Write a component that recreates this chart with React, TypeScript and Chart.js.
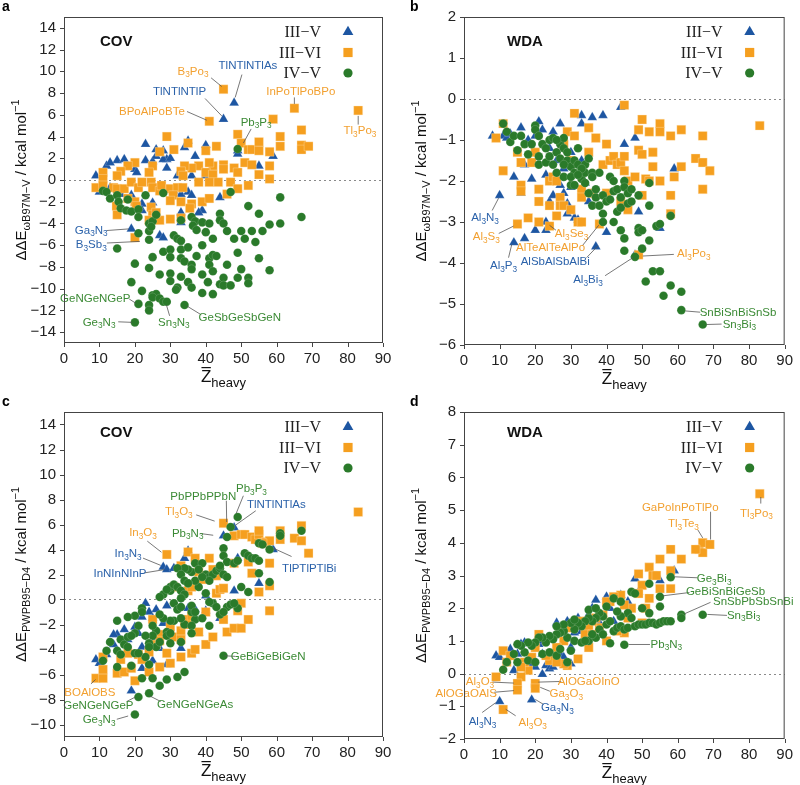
import React, { useEffect, useRef } from 'react';
import { Chart, registerables } from 'chart.js';

Chart.register(...registerables);

type P = [number, number];
type Ann = [string, 'b' | 'o' | 'g', number, number, number, number, number, number];

const SANS = '"Liberation Sans", Arial, Helvetica, sans-serif';
const SERIF = '"Liberation Serif", "Times New Roman", serif';
const BLUE = '#1d56a2';
const ORANGE = '#f59f1f';
const GREEN = '#2a7a2a';
const LABEL_COLORS = { b: '#2b62aa', o: '#f2a030', g: '#3b8a35' };

const seriesNames = ['III\u2212V', 'III\u2212VI', 'IV\u2212V'];
const xTickValues = [0, 10, 20, 30, 40, 50, 60, 70, 80, 90];
const yTicksA = [-14, -12, -10, -8, -6, -4, -2, 0, 2, 4, 6, 8, 10, 12, 14];
const yTicksB = [-6, -5, -4, -3, -2, -1, 0, 1, 2];
const yTicksC = [-10, -8, -6, -4, -2, 0, 2, 4, 6, 8, 10, 12, 14];
const yTicksD = [-2, -1, 0, 1, 2, 3, 4, 5, 6, 7, 8];

// ---------- Panel a : COV, wB97M-V ----------
const aIIIV: P[] = [[48,7.1],[45,5.6],[23,3.3],[35,3.6],[40,3.2],[34,3.0],[37,2.2],[26,2.8],[28,2.7],[29,1.9],[28,1.9],[30,2.0],[49,2.7],[49,2.4],[59,2.2],[55,1.3],[9,0.4],[12,1.3],[15,1.8],[17,1.9],[13,1.6],[20,1.0],[20.5,0.7],[23,1.8],[25,1.7],[26,2.2],[29,1.1],[32,0.4],[36,0.4],[40,0.4],[10,-1.1],[13,-0.7],[16,-1.3],[19,-1.4],[22,-2.2],[22,-2.8],[25,-2.1],[33,-1.3],[35,-1.1],[36,-1.4],[39,-2.8],[44,-1.6],[33,-3.0],[33,-3.9],[19,-4.5],[27,-5.1],[28,-5.3],[21,-2.5],[31,-1.0],[38,-3.0]];
const aIIIVI: P[] = [[45,8.35],[41,5.4],[65,6.6],[83,6.4],[59,5.6],[67,4.6],[61,4.0],[61,3.1],[67,3.2],[67,2.8],[69,3.1],[49,4.2],[50,3.4],[29,4.0],[35,3.4],[43,3.1],[40,2.7],[31,2.8],[27,2.6],[52,2.8],[53,2.8],[55,3.5],[55,2.7],[58,2.6],[58,1.3],[58,0.1],[55,0.5],[51,1.6],[53,1.4],[48,1.1],[49,0.7],[45,1.4],[45,1.0],[42,1.3],[41,1.6],[38,1.3],[36,1.1],[34,1.3],[33,0.8],[33.6,0.4],[40,0.7],[42,0.5],[43.5,-0.2],[47,-0.2],[41,-0.2],[38,-0.2],[52,-0.5],[49,-0.8],[46,-1.3],[25,1.3],[24,0.7],[20,1.6],[18,1.3],[16,0.8],[15,0.4],[11,0.7],[11,0.1],[9,-0.7],[11,-0.5],[14,-0.7],[15,-0.8],[17,-0.8],[19,-0.2],[21,-0.7],[22,-0.2],[24.6,-0.2],[25,-0.7],[27,-1.0],[27.5,-0.5],[30,-0.8],[32,-0.7],[33.5,-0.7],[30.8,-1.4],[30,-1.9],[33,-2.0],[36,-2.2],[35.5,-2.6],[39,-2.0],[41,-1.7],[18,-1.7],[20,-2.0],[20.4,-2.4],[14.8,-2.4],[15,-3.2],[24.6,-2.5],[25,-3.2],[24,-3.7],[27,-3.7],[30,-3.6],[33,-3.5],[20,-5.3],[26,-3.0]];
const aIVV: P[] = [[49,2.85],[47,-1.1],[61,-1.6],[67,-3.4],[61,-4.0],[58,-4.1],[55,-3.1],[52,-2.4],[11,-1.0],[12,-1.1],[13,-1.7],[15,-1.4],[15.4,-2.0],[16,-2.6],[18,-1.8],[17.6,-2.8],[19,-2.9],[21,-2.7],[21,-3.4],[23,-1.4],[28,-1.2],[21,-4.9],[24,-4.0],[24,-4.7],[25,-3.8],[24.6,-4.3],[26,-3.2],[24,-5.5],[15,-6.3],[20,-7.7],[24,-8.1],[25,-7.1],[27,-8.7],[28,-6.6],[30,-6.4],[30,-7.1],[30,-8.6],[30,-9.3],[31,-5.1],[32,-5.4],[33,-5.6],[33,-6.4],[33,-7.2],[34,-7.5],[35,-6.2],[36,-7.8],[36,-8.2],[33,-8.9],[32,-9.9],[31.6,-10.1],[35,-9.4],[36,-9.9],[33,-3.7],[36,-3.4],[37,-3.8],[36.4,-4.2],[37.4,-4.6],[39,-3.9],[41,-4.0],[44,-3.1],[44,-3.7],[45,-4.0],[46,-4.7],[42,-5.4],[40,-4.8],[39,-6.0],[37.4,-7.0],[41,-7.2],[42,-6.9],[43,-7.0],[41,-7.8],[42,-8.4],[40.6,-9.4],[42,-10.5],[39,-10.4],[39,-8.7],[44,-9.6],[45,-9.0],[45,-9.7],[47,-9.7],[46,-7.8],[48,-5.4],[50,-4.7],[51,-5.4],[53,-4.7],[54,-5.7],[56,-4.7],[55,-7.2],[49,-6.7],[50,-8.2],[49,-9.0],[52,-9.0],[52,-9.5],[58,-8.3],[19,-9.4],[22,-10.2],[25,-10.6],[26,-10.5],[25,-10.8],[27,-10.9],[28,-11.2],[29,-11.2],[21,-11.4],[24,-11.5],[24,-12.0],[34,-11.5],[20,-13.1]];
const aAnn: Ann[] = [
  ['B3Po3','o',36.4,10.0,41.5,9.4,44.5,8.6],
  ['TlNTlNTlAs','b',51.9,10.5,50.2,9.7,48.3,7.6],
  ['TlNTlNTlP','b',32.6,8.1,39.8,7.5,44.5,5.9],
  ['BPoAlPoBTe','o',24.8,6.25,34.7,6.3,40.3,5.5],
  ['InPoTlPoBPo','o',66.8,8.1,65,7.6,65,7.0],
  ['Tl3Po3','o',83.5,4.5,83,5.9,83,5.1],
  ['Pb3P3','g',54.2,5.3,52.8,4.7,50.6,3.4],
  ['Ga3N3','b',7.7,-4.65,12.1,-4.65,18.3,-4.5],
  ['B3Sb3','b',7.7,-5.95,12.1,-5.8,21.4,-5.65],
  ['GeNGeNGeP','g',8.8,-10.9,18.4,-10.95,20.3,-11.35],
  ['Ge3N3','g',9.9,-13.1,15.3,-13.05,19.2,-13.1],
  ['Sn3N3','g',31,-13.1,29.8,-12.5,28.9,-11.5],
  ['GeSbGeSbGeN','g',49.6,-12.7,38.7,-12.4,34.7,-11.6],
];

// ---------- Panel b : WDA, wB97M-V ----------
const bIIIV: P[] = [[8,-0.9],[10,-2.35],[14,-3.5],[17,-3.4],[11,-0.9],[12,-0.95],[13,-0.85],[14,-1.9],[16,-0.7],[16,-2.3],[17,-1.6],[18,-1.0],[19,-1.95],[20,-3.2],[21,-0.55],[22,-0.75],[23,-1.85],[23,-3.2],[23,-3.0],[24,-2.5],[25,-0.8],[25,-2.35],[26,-1.5],[27,-0.6],[27,-2.1],[28,-1.7],[28,-2.3],[29,-2.8],[29,-2.55],[30,-2.15],[31,-2.9],[32,-2.95],[33,-0.4],[33,-0.6],[34,-2.05],[35,-2.5],[36,-0.45],[37,-3.6],[39,-0.4],[40,-3.25],[44,-0.2],[45,-1.1],[48,-0.95],[48,-3.8],[49,-2.75],[55,-3.15],[59,-1.7],[33,-1.5],[30,-1.3],[24,-1.2],[20,-0.9]];
const bIIIVI: P[] = [[83,-0.65],[45,-0.15],[31,-0.35],[35,-0.7],[9,-0.95],[11,-0.6],[11,-1.75],[15,-1.3],[16,-1.55],[16,-2.1],[16,-2.25],[15,-3.05],[18,-2.9],[19,-1.55],[20,-1.3],[21,-2.2],[21,-2.5],[21,-3.0],[24,-3.1],[24,-2.6],[24,-2.0],[25,-1.9],[26,-2.85],[27,-2.4],[27,-2.6],[28,-2.6],[30,-2.7],[29,-0.8],[30,-1.5],[31,-0.9],[32,-3.0],[33,-3.0],[33,-2.2],[33,-2.4],[35,-1.3],[37,-0.95],[38,-3.05],[40,-1.1],[39,-1.6],[41,-1.5],[42,-1.4],[43,-1.6],[44,-1.55],[45,-1.4],[45,-1.75],[46,-2.0],[46,-2.7],[48,-1.9],[49,-0.75],[49,-1.25],[50,-1.35],[50,-0.5],[51,-1.95],[50,-2.35],[52,-0.8],[53,-1.3],[53,-1.65],[52,-2.0],[55,-0.6],[55,-0.8],[55,-2.0],[58,-0.9],[58,-2.35],[58,-2.8],[59,-1.9],[61,-0.75],[61,-1.65],[65,-1.45],[67,-0.9],[67,-1.55],[67,-2.2],[69,-1.75],[49,-3.8],[26,-2.0],[28,-1.1],[36,-2.3],[40,-2.3],[44,-2.5]];
const bIVV: P[] = [[11,-0.6],[12,-0.8],[13,-1.05],[14,-0.9],[15,-1.25],[16,-0.9],[17,-1.1],[18,-1.35],[19,-1.1],[20,-0.65],[20,-0.75],[21,-0.9],[21,-1.4],[21,-1.6],[22,-1.1],[23,-1.2],[23,-1.55],[24,-1.0],[24,-1.4],[25,-0.95],[25,-1.6],[26,-1.3],[26,-1.8],[27,-1.1],[27,-1.45],[28,-0.95],[28,-1.2],[28,-1.9],[29,-1.5],[29,-1.3],[30,-1.65],[30,-2.1],[31,-1.5],[31,-1.8],[32,-1.2],[32,-1.6],[33,-1.75],[33,-1.95],[34,-1.6],[34,-1.8],[35,-1.45],[35,-2.3],[36,-1.8],[36,-2.6],[37,-2.4],[37,-2.2],[38,-1.8],[38,-2.6],[39,-2.35],[39,-2.8],[39,-3.0],[40,-2.5],[41,-1.9],[41,-2.45],[42,-2.0],[42,-2.25],[42,-3.0],[43,-2.2],[43,-2.75],[44,-2.4],[44,-2.65],[44,-3.2],[45,-2.0],[45,-2.15],[45,-3.4],[45,-3.7],[46,-2.3],[46,-2.55],[47,-2.5],[47,-2.2],[48,-3.85],[49,-2.35],[49,-3.15],[49,-3.25],[50,-3.2],[50,-3.65],[51,-4.45],[52,-2.05],[52,-2.6],[52,-3.45],[53,-4.2],[54,-3.1],[55,-3.05],[55,-4.2],[56,-4.8],[58,-2.85],[58,-4.55],[61,-4.7],[61,-5.15],[67,-5.5],[30,-1.9],[31,-2.1],[33,-1.7],[34,-2.05],[36,-1.9],[26,-1.0],[28,-1.6],[32,-1.85]];
const bAnn: Ann[] = [
  ['Al3N3','b',5.9,-2.9,7.9,-2.72,9.7,-2.42],
  ['Al3S3','o',6.25,-3.36,9.75,-3.28,13.9,-3.1],
  ['Al3P3','b',11.1,-4.08,12.5,-3.87,13.4,-3.55],
  ['Al3Se3','o',30.2,-3.3,25.8,-3.2,24,-3.08],
  ['AlTeAlTeAlPo','o',24.3,-3.62,33.2,-3.58,37.8,-3.08],
  ['AlSbAlSbAlBi','b',25.6,-3.97,34.4,-3.87,37.6,-3.58],
  ['Al3Bi3','b',34.8,-4.41,39.6,-4.31,47.4,-3.87],
  ['Al3Po3','o',64.5,-3.77,58.9,-3.79,50.2,-3.83],
  ['SnBiSnBiSnSb','g',76.9,-5.21,66.3,-5.2,62.2,-5.17],
  ['Sn3Bi3','g',77.3,-5.5,72.3,-5.49,68.1,-5.5],
];

// ---------- Panel c : COV, PWPB95-D4 ----------
const cIIIV: P[] = [[48,5.75],[45,5.1],[59,4.0],[28,2.6],[29,2.4],[31,2.5],[35,3.9],[34,3.3],[48,0.7],[55,1.3],[49,3.3],[40,0.3],[23,-0.3],[26,-0.8],[29,-0.5],[33,-0.6],[35,-0.7],[37,-0.8],[40,-0.9],[44,-1.5],[22,-1.4],[24,-1.0],[25,-1.5],[28,-1.9],[15,-2.8],[17,-2.4],[20,-2.2],[21,-2.7],[26,-3.1],[33,-3.9],[38,-2.7],[9,-4.8],[10,-5.1],[12,-4.4],[14,-3.6],[18,-3.2],[22,-3.8],[22,-5.5],[25,-4.9],[29,-5.2],[19,-7.3],[27,-3.9],[14,-2.8]];
const cIIIVI: P[] = [[83,7.0],[45,6.1],[29,3.6],[35,3.8],[37,3.3],[41,3.3],[33,2.7],[38,2.2],[39,1.6],[42,2.4],[43,0.5],[44,0.8],[45,0.9],[48,2.9],[48,5.1],[50,5.2],[51,5.2],[53,5.0],[54,4.8],[55,5.2],[55,5.5],[57,4.6],[58,4.7],[61,5.5],[61,4.8],[65,4.9],[67,5.9],[67,4.7],[69,3.7],[56,4.5],[52,3.0],[53,2.1],[58,2.9],[58,1.1],[55,0.6],[50,-0.3],[49,-0.9],[45,-1.6],[46,-2.6],[48,-2.3],[50,-2.3],[52,-1.6],[58,-0.9],[40,-3.6],[42,-3.0],[36,-4.3],[37,-4.0],[33,-4.6],[30,-5.1],[27,-5.4],[24,-5.8],[20,-6.5],[9,-6.3],[11,-6.3],[11,-5.6],[11,-4.6],[15,-5.9],[17,-5.8],[19,-5.5],[16,-4.8],[18,-4.3],[21,-4.4],[22,-4.8],[24,-4.2],[26,-3.6],[27,-2.8],[30,-2.2],[31,-3.0],[33,-2.5],[34,-2.0],[35,-1.6],[36,-1.3],[38,-2.6],[25,-1.6],[27,-3.3],[29,-4.3],[33,-3.2],[35,0.7],[36,1.0],[31,1.0],[43,1.9],[40,-1.0]];
const cIVV: P[] = [[49,6.6],[47,5.8],[46,5.0],[45,4.1],[45,3.5],[46,3.0],[48,2.9],[49,3.1],[51,3.7],[52,3.5],[53,3.3],[54,3.3],[55,3.1],[55,4.5],[56,4.4],[58,4.0],[61,5.3],[61,5.1],[67,5.5],[55,2.1],[58,1.4],[50,1.0],[52,0.6],[49,-0.7],[46,-0.6],[47,-0.4],[48,-0.3],[44,-1.2],[45,-1.0],[42,-0.3],[41,-0.2],[40,0.5],[38,1.0],[37,1.5],[36,2.2],[35,2.4],[34,2.5],[32,2.5],[33,2.0],[37,2.9],[39,2.9],[40,2.0],[41,1.8],[42,2.0],[43,2.3],[44,2.5],[44,2.7],[45,2.0],[46,1.8],[41,1.5],[39,1.8],[38,2.4],[30,0.7],[30,1.0],[31,1.2],[32,1.0],[33,0.7],[34,0.4],[33,0.1],[35,1.3],[34,1.5],[28,0.4],[27,0.2],[29,0.8],[31,-0.3],[32,-0.8],[33,-0.6],[36,-1.0],[37,-1.6],[39,-1.5],[41,-2.1],[43,-0.6],[34,-2.0],[36,-2.1],[36,-2.7],[31,-1.7],[30,-1.7],[29,-2.6],[28,-1.5],[27,-1.2],[26,-2.5],[25,-2.1],[25,-2.9],[26,-3.8],[27,-3.4],[29,-2.9],[30,-3.5],[30,-2.7],[33,-3.4],[33,-1.5],[22,-0.7],[22,-1.0],[21,-2.1],[20,-2.7],[20,-1.3],[18,-1.4],[15,-1.7],[15,-4.1],[16,-3.2],[16,-4.4],[17,-3.6],[18,-3.0],[18,-3.8],[19,-2.9],[20,-4.3],[23,-2.9],[24,-3.5],[24,-3.8],[24,-5.2],[23,-4.6],[21,-4.3],[11,-4.9],[12,-4.1],[13,-3.4],[15,-5.4],[19,-5.3],[22,-6.3],[25,-6.3],[27,-6.9],[29,-6.4],[32,-6.2],[34,-5.8],[21,-7.8],[24,-7.5],[20,-9.2],[45,-4.5],[35,1.3],[36,-0.5],[37,-1.0]];
const cAnn: Ann[] = [
  ['Pb3P3','g',52.9,8.86,50.6,8.3,48.6,6.9],
  ['PbPPbPPbN','g',39.3,8.24,45.8,7.9,45.9,6.2],
  ['TlNTlNTlAs','b',59.9,7.6,54.1,7.1,48.4,5.95],
  ['Tl3O3','o',32.4,6.98,37.3,6.77,42.5,6.27],
  ['In3O3','o',22.3,5.35,23.5,4.67,27.5,3.78],
  ['Pb3N3','g',34.9,5.28,38.4,5.28,42.1,5.14],
  ['In3N3','b',18.1,3.63,22.3,3.31,27.3,2.73],
  ['InNInNInP','b',15.8,2.05,22.7,2.13,28.3,2.39],
  ['TlPTlPTlBi','b',69.2,2.47,64.2,3.44,59.1,4.1],
  ['BOAlOBS','o',7.3,-7.48,7.6,-6.75,8.9,-6.4],
  ['GeNGeNGeP','g',9.7,-8.48,17.7,-8.16,20,-7.82],
  ['GeNGeNGeAs','g',37,-8.43,27.3,-8.16,24.1,-7.7],
  ['Ge3N3','g',9.9,-9.66,14.9,-9.58,18.1,-9.32],
  ['GeBiGeBiGeN','g',57.6,-4.55,48.3,-4.55,45.3,-4.5],
];

// ---------- Panel d : WDA, PWPB95-D4 ----------
const dIIIV: P[] = [[10,-0.85],[19,-0.8],[22,-0.02],[9,0.55],[10,0.5],[13,0.75],[14,0.1],[15,0.6],[16,0.9],[17,0.95],[19,0.3],[20,0.2],[21,0.9],[22,0.6],[23,0.25],[24,0.15],[25,0.2],[26,1.55],[27,0.6],[28,0.5],[29,1.6],[30,0.8],[31,1.25],[32,1.7],[33,1.3],[35,1.8],[36,2.0],[37,2.25],[38,1.55],[40,2.35],[41,2.0],[42,1.6],[44,2.4],[46,2.2],[48,2.9],[49,2.5],[55,2.85],[59,3.15],[22,1.0],[28,1.25],[30,0.3]];
const dIIIVI: P[] = [[83,5.5],[66,3.8],[67,4.0],[67,3.7],[69,3.95],[65,3.8],[58,3.8],[61,3.5],[58,3.15],[55,3.5],[52,3.25],[53,3.0],[54,3.0],[55,2.6],[58,2.6],[49,3.05],[50,2.7],[52,2.3],[51,2.0],[49,2.45],[47,2.0],[45,2.1],[44,2.4],[42,2.35],[41,2.2],[40,2.2],[39,1.8],[38,1.4],[37,1.7],[36,1.6],[35,1.4],[34,1.2],[33,1.6],[32,0.45],[31,1.5],[30,1.4],[29,0.25],[28,1.0],[27,1.4],[26,0.8],[25,0.5],[24,0.4],[23,0.55],[21,1.2],[20,0.8],[19,0.5],[18,0.1],[17,0.35],[16,-0.1],[16,0.2],[15,-0.3],[15,-0.5],[20,-0.3],[20,-0.45],[9,-0.1],[11,-1.1],[11,0.7],[12,0.35],[13,0.55],[45,1.25],[46,1.7],[50,1.55],[35,0.8],[36,1.2],[40,1.0],[43,1.3],[28,0.3],[26,0.35]];
const dIVV: P[] = [[58,2.95],[55,2.35],[55,2.05],[61,1.8],[61,1.7],[67,1.8],[45,0.88],[41,0.93],[52,2.75],[47,2.5],[48,2.45],[50,2.0],[52,1.85],[42,2.3],[44,2.2],[46,1.85],[44,1.75],[43,1.9],[40,2.05],[39,1.75],[38,1.85],[37,1.7],[36,1.6],[35,1.7],[34,1.6],[33,1.45],[32,1.55],[31,1.35],[30,1.55],[29,1.1],[28,1.3],[27,1.25],[26,1.2],[25,1.05],[24,1.15],[23,0.95],[22,1.1],[21,1.1],[20,0.95],[19,0.85],[18,0.95],[17,0.65],[16,0.85],[15,0.9],[14,0.6],[12,0.35],[11,0.12],[15,0.35],[18,0.4],[20,0.35],[22,0.6],[24,0.65],[26,0.55],[29,0.35],[31,1.0],[33,0.95],[35,1.0],[37,1.1],[38,1.35],[39,1.2],[40,1.5],[42,1.3],[43,1.4],[44,1.45],[45,1.35],[46,1.4],[48,1.45],[49,1.5],[50,1.5],[51,1.5],[52,1.55],[53,1.55],[54,1.5],[55,1.55],[56,1.6],[57,1.6],[58,1.6],[47,1.7],[41,1.6],[36,1.2],[34,1.0],[30,0.7],[28,1.5],[26,1.45],[31,1.65],[35,1.95],[37,2.0],[27,0.75]];
const dAnn: Ann[] = [
  ['Tl3Po3','o',82.1,4.9,83.3,5.4,83.3,5.2],
  ['GaPoInPoTlPo','o',60.7,5.08,69.2,4.95,69.2,4.1],
  ['Tl3Te3','o',61.6,4.57,65.6,4.4,67,4.15],
  ['Ge3Bi3','g',70.2,2.9,65.6,2.93,59.1,2.96],
  ['GeBiSnBiGeSb','g',73.4,2.5,63.3,2.48,55.9,2.38],
  ['SnSbPbSbSnBi','g',81.2,2.18,69.2,2.18,61.9,1.83],
  ['Sn3Bi3','g',78.5,1.78,73.8,1.78,68.3,1.81],
  ['Pb3N3','g',56.8,0.89,52.2,0.89,46.2,0.89],
  ['Al3O3','o',4.5,-0.26,8,-0.26,14,-0.29],
  ['AlOGaOAlS','o',0.6,-0.61,8.5,-0.57,14,-0.52],
  ['AlOGaOInO','o',35,-0.24,27.3,-0.24,20.9,-0.26],
  ['Ga3O3','o',28.7,-0.61,24.1,-0.54,21.4,-0.42],
  ['Ga3N3','b',26.2,-1.04,22.3,-0.94,20,-0.79],
  ['Al3N3','b',5.2,-1.48,5.1,-1.19,8.9,-0.89],
  ['Al3O3','o',19.3,-1.5,14.5,-1.29,11.7,-1.09],
];

type PanelCfg = {
  letter: string; method: string; sub: string;
  left: number; top: number; width: number; height: number;
  area: [number, number, number, number];
  yMin: number; yMax: number; yTicks: number[];
  sets: [P[], P[], P[]]; anns: Ann[];
};

const panels: PanelCfg[] = [
  { letter: 'a', method: 'COV', sub: '\u03c9B97M\u2212V', left: 0, top: 0, width: 400, height: 392, area: [64, 383, 12, 343], yMin: -15, yMax: 15, yTicks: yTicksA, sets: [aIIIV, aIIIVI, aIVV], anns: aAnn },
  { letter: 'b', method: 'WDA', sub: '\u03c9B97M\u2212V', left: 400, top: 0, width: 400, height: 392, area: [64, 390, 14, 345], yMin: -6, yMax: 2, yTicks: yTicksB, sets: [bIIIV, bIIIVI, bIVV], anns: bAnn },
  { letter: 'c', method: 'COV', sub: 'PWPB95\u2212D4', left: 0, top: 395, width: 400, height: 390, area: [64, 383, 12, 342], yMin: -11, yMax: 15, yTicks: yTicksC, sets: [cIIIV, cIIIVI, cIVV], anns: cAnn },
  { letter: 'd', method: 'WDA', sub: 'PWPB95\u2212D4', left: 400, top: 395, width: 400, height: 390, area: [64, 390, 14, 344], yMin: -2, yMax: 8, yTicks: yTicksD, sets: [dIIIV, dIIIVI, dIVV], anns: dAnn },
];

const fmt = (v: number) => (v < 0 ? '\u2212' + Math.abs(v) : String(v));

function drawChem(ctx: CanvasRenderingContext2D, text: string, x: number, y: number, size: number, color: string) {
  const segs = text.split(/(\d+)/).filter((s) => s.length > 0);
  const sub = size * 0.72;
  const widths = segs.map((s) => {
    ctx.font = `${/^\d+$/.test(s) ? sub : size}px ${SANS}`;
    return ctx.measureText(s).width;
  });
  const total = widths.reduce((a, b) => a + b, 0);
  let cx = x - total / 2;
  ctx.fillStyle = color;
  ctx.textAlign = 'left';
  ctx.textBaseline = 'middle';
  segs.forEach((s, i) => {
    const d = /^\d+$/.test(s);
    ctx.font = `${d ? sub : size}px ${SANS}`;
    ctx.fillText(s, cx, d ? y + size * 0.32 : y);
    cx += widths[i];
  });
}

function drawMarker(ctx: CanvasRenderingContext2D, kind: number, x: number, y: number) {
  ctx.beginPath();
  if (kind === 0) {
    const r = 6.2;
    ctx.moveTo(x, y - r);
    ctx.lineTo(x + r * 0.866, y + r / 2);
    ctx.lineTo(x - r * 0.866, y + r / 2);
    ctx.closePath();
    ctx.fillStyle = BLUE;
  } else if (kind === 1) {
    ctx.rect(x - 4.6, y - 4.6, 9.2, 9.2);
    ctx.fillStyle = ORANGE;
  } else {
    ctx.arc(x, y, 4.6, 0, Math.PI * 2);
    ctx.fillStyle = GREEN;
  }
  ctx.fill();
}

function makeDeco(cfg: PanelCfg) {
  return {
    id: 'deco' + cfg.letter,
    beforeDatasetsDraw(chart: any) {
      const { ctx, chartArea: a, scales } = chart;
      const y0 = scales.y.getPixelForValue(0);
      ctx.save();
      ctx.strokeStyle = '#8a8a8a';
      ctx.lineWidth = 1;
      ctx.setLineDash([2, 3]);
      ctx.beginPath();
      ctx.moveTo(a.left, Math.round(y0) + 0.5);
      ctx.lineTo(a.right, Math.round(y0) + 0.5);
      ctx.stroke();
      ctx.restore();
    },
    afterDatasetsDraw(chart: any) {
      const { ctx, chartArea: a, scales } = chart;
      const sx = (v: number) => scales.x.getPixelForValue(v);
      const sy = (v: number) => scales.y.getPixelForValue(v);
      ctx.save();
      cfg.anns.forEach(([t, c, tx, ty, x1, y1, x2, y2]) => {
        ctx.strokeStyle = '#555';
        ctx.lineWidth = 0.8;
        ctx.beginPath();
        ctx.moveTo(sx(x1), sy(y1));
        ctx.lineTo(sx(x2), sy(y2));
        ctx.stroke();
        drawChem(ctx, t, sx(tx), sy(ty), 11.5, LABEL_COLORS[c]);
      });
      ctx.strokeStyle = '#444';
      ctx.lineWidth = 1;
      ctx.strokeRect(a.left + 0.5, a.top + 0.5, a.right - a.left - 1, a.bottom - a.top - 1);
      ctx.beginPath();
      xTickValues.forEach((v) => {
        const px = Math.round(sx(v)) + 0.5;
        ctx.moveTo(px, a.bottom);
        ctx.lineTo(px, a.bottom + 4);
      });
      cfg.yTicks.forEach((v) => {
        const py = Math.round(sy(v)) + 0.5;
        ctx.moveTo(a.left, py);
        ctx.lineTo(a.left - 4, py);
      });
      ctx.stroke();
      ctx.fillStyle = '#111';
      ctx.font = `bold 15px ${SANS}`;
      ctx.textAlign = 'left';
      ctx.textBaseline = 'middle';
      ctx.fillText(cfg.method, a.left + (cfg.method === 'COV' ? 36 : 43), a.top + (cfg.letter === 'a' || cfg.letter === 'b' ? 25 : 21));
      seriesNames.forEach((n, i) => {
        const ly = a.top + 15 + i * 20.5;
        ctx.fillStyle = '#222';
        ctx.font = `16px ${SERIF}`;
        ctx.textAlign = 'right';
        ctx.textBaseline = 'middle';
        ctx.fillText(n, a.right - 62, ly + 1);
        drawMarker(ctx, i, a.right - 35, ly);
      });
      ctx.fillStyle = '#000';
      ctx.font = `bold 14px ${SANS}`;
      ctx.textAlign = 'left';
      ctx.textBaseline = 'middle';
      ctx.fillText(cfg.letter, cfg.left === 0 ? 2 : 10, 7);
      const cy = (a.top + a.bottom) / 2;
      const M = 15;
      const S = 11;
      const parts: [string, number, number][] = [
        ['\u0394\u0394E', M, 0],
        [cfg.sub, S, 0.32 * M],
        [' / kcal mol', M, 0],
        ['\u22121', S, -0.42 * M],
      ];
      const ws = parts.map(([s, sz]) => {
        ctx.font = `${sz}px ${SANS}`;
        return ctx.measureText(s).width;
      });
      const tot = ws.reduce((p, q) => p + q, 0);
      ctx.translate(22, cy);
      ctx.rotate(-Math.PI / 2);
      let px = -tot / 2;
      ctx.fillStyle = '#111';
      ctx.textAlign = 'left';
      ctx.textBaseline = 'middle';
      parts.forEach(([s, sz, off], i) => {
        ctx.font = `${sz}px ${SANS}`;
        ctx.fillText(s, px, off);
        px += ws[i];
      });
      ctx.setTransform(1, 0, 0, 1, 0, 0);
      const cx = (a.left + a.right) / 2;
      ctx.font = `17px ${SANS}`;
      const zw = ctx.measureText('Z').width;
      ctx.font = `13px ${SANS}`;
      const hw = ctx.measureText('heavy').width;
      const x0 = cx - (zw + hw) / 2;
      const base = a.bottom + 39;
      ctx.fillStyle = '#111';
      ctx.textBaseline = 'alphabetic';
      ctx.font = `17px ${SANS}`;
      ctx.fillText('Z', x0, base);
      ctx.fillRect(x0 + 0.5, base - 15, zw - 1, 1.2);
      ctx.font = `13px ${SANS}`;
      ctx.fillText('heavy', x0 + zw, base + 5);
      ctx.restore();
    },
  };
}

function Panel({ cfg }: { cfg: PanelCfg }) {
  const ref = useRef<HTMLCanvasElement>(null);
  useEffect(() => {
    if (!ref.current) return;
    const [L, R, T, B] = cfg.area;
    const toXY = (arr: P[]) => arr.map(([x, y]) => ({ x, y }));
    const chart = new Chart(ref.current, {
      type: 'scatter',
      data: {
        datasets: [
          { label: seriesNames[2], data: toXY(cfg.sets[2]), pointStyle: 'circle', pointRadius: 4.3, backgroundColor: GREEN, borderColor: 'rgba(255,255,255,0.25)', borderWidth: 0.6 },
          { label: seriesNames[1], data: toXY(cfg.sets[1]), pointStyle: 'rect', pointRadius: 6.3, backgroundColor: ORANGE, borderColor: 'rgba(255,230,190,0.6)', borderWidth: 0.6 },
          { label: seriesNames[0], data: toXY(cfg.sets[0]), pointStyle: 'triangle', pointRadius: 5.6, backgroundColor: BLUE, borderColor: 'rgba(255,255,255,0.3)', borderWidth: 0.6 },
        ],
      },
      options: {
        responsive: false,
        animation: false,
        layout: { autoPadding: false, padding: { left: 0, right: cfg.width - R, top: T, bottom: 0 } },
        plugins: { legend: { display: false }, tooltip: { enabled: false } },
        scales: {
          x: {
            type: 'linear', min: 0, max: 90,
            afterBuildTicks: (ax: any) => { ax.ticks = xTickValues.map((v) => ({ value: v })); },
            afterFit: (sc: any) => { sc.height = cfg.height - B; },
            grid: { display: false, drawTicks: false },
            border: { display: false },
            ticks: { padding: 7, color: '#222', font: { size: 15, family: SANS }, callback: (v: any) => fmt(Number(v)), maxRotation: 0 },
          },
          y: {
            type: 'linear', min: cfg.yMin, max: cfg.yMax,
            afterBuildTicks: (ax: any) => { ax.ticks = cfg.yTicks.map((v) => ({ value: v })); },
            afterFit: (sc: any) => { sc.width = L; },
            grid: { display: false, drawTicks: false },
            border: { display: false },
            ticks: { padding: 8, color: '#222', font: { size: 15, family: SANS }, callback: (v: any) => fmt(Number(v)) },
          },
        },
      },
      plugins: [makeDeco(cfg)],
    } as any);
    return () => chart.destroy();
  }, [cfg]);
  return (
    <canvas
      ref={ref}
      width={cfg.width}
      height={cfg.height}
      style={{ position: 'absolute', left: cfg.left, top: cfg.top, width: cfg.width, height: cfg.height }}
    />
  );
}

export default function App() {
  return (
    <div style={{ position: 'absolute', left: 0, top: 0, width: 800, height: 785, background: '#fff', overflow: 'hidden' }}>
      {panels.map((p) => (
        <Panel key={p.letter} cfg={p} />
      ))}
    </div>
  );
}
